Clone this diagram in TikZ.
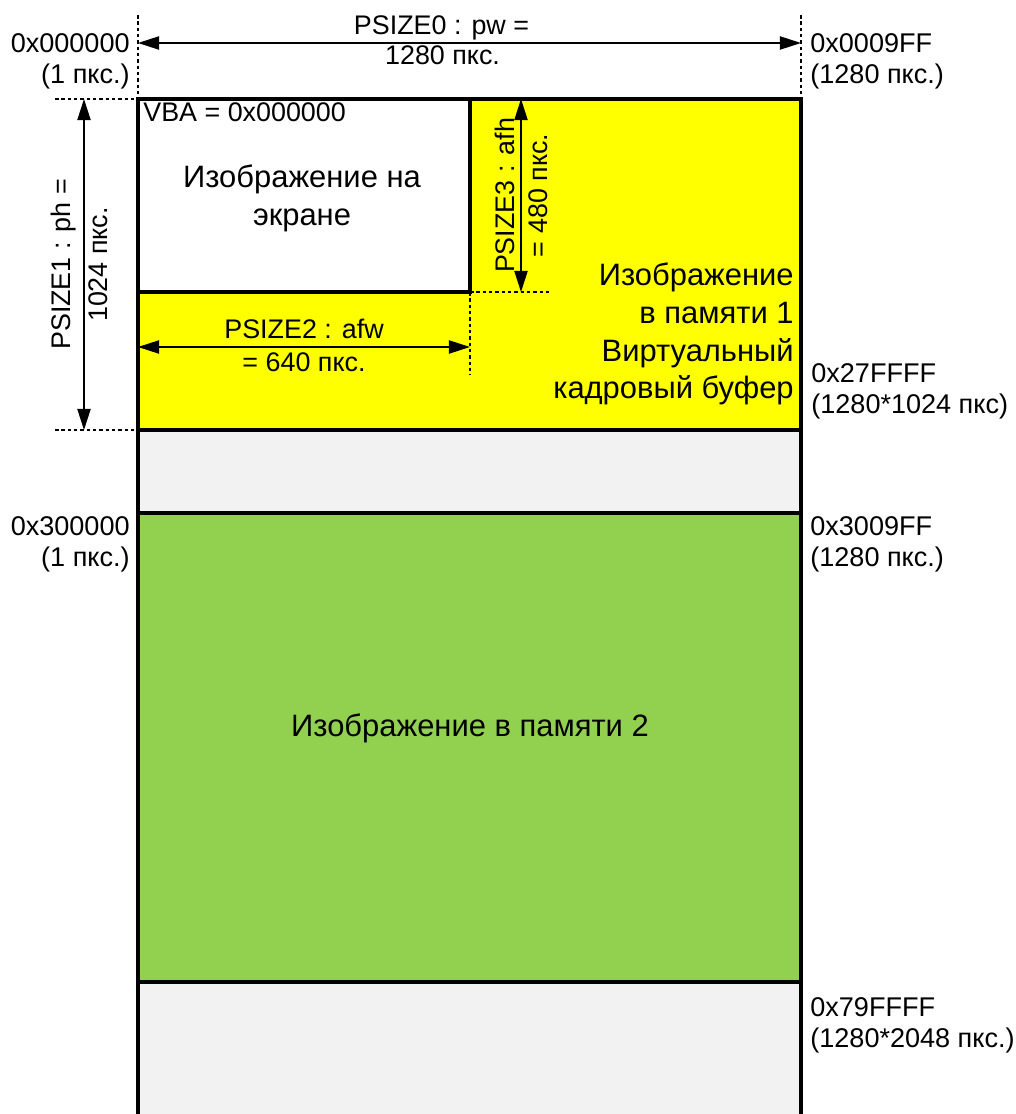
\documentclass[tikz,border=0pt]{standalone}
\usepackage{fontspec}
\setmainfont{Liberation Sans}
\usetikzlibrary{arrows.meta}
\usetikzlibrary{positioning}

\definecolor{bufyellow}{HTML}{FFFF00}
\definecolor{bufgreen}{HTML}{92D050}
\definecolor{memgray}{HTML}{F2F2F2}

\tikzset{
	memline/.style={line width=2pt},
	guide/.style={line width=1.1pt, dash pattern=on 2pt off 1.6pt},
	dim/.style={line width=0.9pt, {Triangle[length=12pt,width=7.5pt]}-{Triangle[length=12pt,width=7.5pt]}},
	addr/.style={font=\fontsize{15.4}{17.5}\selectfont, inner sep=0pt},
	lbl/.style={font=\fontsize{15.3}{21}\selectfont, inner sep=0pt},
	biglbl/.style={font=\fontsize{17.6}{21.5}\selectfont, inner sep=0pt}
}

\begin{document}
\begin{tikzpicture}[x=0.02cm, y=-0.02cm]
		\useasboundingbox (0,0) rectangle (1016,1114);
		%% Invisibly Defining the Corners of the Memory Map
		\path
			(138,99)   coordinate (m_tl)
			(801,99)   coordinate (m_tr)
			(470,99)   coordinate (s_tr)
			(138,292)  coordinate (s_bl)
			(470,292)  coordinate (s_br)
			(138,430)  coordinate (b1_bl)
			(801,430)  coordinate (b1_br)
			(138,513)  coordinate (b2_tl)
			(801,513)  coordinate (b2_tr)
			(138,982)  coordinate (b2_bl)
			(801,982)  coordinate (b2_br)
			(138,1114) coordinate (m_bl)
			(801,1114) coordinate (m_br);
		%% Guide end points
		\path
			(138,15)  coordinate (g_l)
			(801,15)  coordinate (g_r)
			(55,99)   coordinate (g_top)
			(55,430)  coordinate (g_bot)
			(470,375) coordinate (g_afw)
			(550,292) coordinate (g_afh);
		%% Dimension end points
		\path
			(138,43)  coordinate (pw_l)
			(801,43)  coordinate (pw_r)
			(84,430)  coordinate (ph_b)
			(84,99)   coordinate (ph_t)
			(138,347) coordinate (afw_l)
			(470,347) coordinate (afw_r)
			(521,292) coordinate (afh_b)
			(521,99)  coordinate (afh_t);
		%% Filling the regions
		\fill[bufyellow] (m_tl) rectangle (b1_br);
		\fill[white]     (m_tl) rectangle (s_br);
		\fill[memgray]   (b1_bl) rectangle (b2_tr);
		\fill[bufgreen]  (b2_tl) rectangle (b2_br);
		\fill[memgray]   (b2_bl) rectangle (m_br);
		%% Borders
		\draw[memline] (m_bl) -- (m_tl) -- (m_tr) -- (m_br);
		\draw[memline] (b1_bl) -- (b1_br);
		\draw[memline] (b2_tl) -- (b2_tr);
		\draw[memline] (b2_bl) -- (b2_br);
		\draw[memline] (s_tr) -- (s_br) -- (s_bl);
		%% Dashed guides
		\draw[guide] (g_l) -- (m_tl);
		\draw[guide] (g_r) -- (m_tr);
		\draw[guide] (g_top) -- (m_tl);
		\draw[guide] (g_bot) -- (b1_bl);
		\draw[guide] (s_br) -- (g_afw);
		\draw[guide] (s_br) -- (g_afh);
		%% Dimensions
		\draw[dim] (pw_l) -- node[lbl, above=1pt, xshift=-0.56cm] (pw_top) {PSIZE0 : pw =}
			node[lbl, below=1pt, xshift=-0.54cm] (pw_bot) {1280 пкс.} (pw_r);
		\draw[dim] (ph_b) -- node[lbl, sloped, above=4pt] (ph_top) {PSIZE1 : ph =}
			node[lbl, sloped, below=2.3pt] (ph_bot) {1024 пкс.} (ph_t);
		\draw[dim] (afw_l) -- node[lbl, above=4pt] (afw_top) {PSIZE2 : afw}
			node[lbl, below=2.8pt] (afw_bot) {= 640 пкс.} (afw_r);
		\draw[dim] (afh_b) -- node[lbl, sloped, above=3pt] (afh_top) {PSIZE3 : afh}
			node[lbl, sloped, below=4pt] (afh_bot) {= 480 пкс.} (afh_t);
		%% Addresses
		\node[addr, align=right, anchor=east] (a_start)  at (130,61)   {0x000000\\(1 пкс.)};
		\node[addr, align=left, anchor=west]  (a_end)    at (810,61)   {0x0009FF\\(1280 пкс.)};
		\node[addr, align=left, anchor=west]  (a_buf1)   at (811,391)  {0x27FFFF\\(1280*1024 пкс)};
		\node[addr, align=right, anchor=east] (a_b2st)   at (130,544)  {0x300000\\(1 пкс.)};
		\node[addr, align=left, anchor=west]  (a_b2row)  at (810,544)  {0x3009FF\\(1280 пкс.)};
		\node[addr, align=left, anchor=west]  (a_b2end)  at (810,1025) {0x79FFFF\\(1280*2048 пкс.)};
		%% Region labels
		\node[lbl, anchor=north west] (vba) at (143,102) {VBA = 0x000000};
		\node[biglbl, align=center] (scr_txt) at (302,198) {Изображение на\\экране};
		\node[biglbl, align=right, anchor=east] (buf1_txt) at (794,334)
			{Изображение\\в памяти 1\\Виртуальный\\кадровый буфер};
		\node[biglbl] (buf2_txt) at (470,728) {Изображение в памяти 2};
\end{tikzpicture}
\end{document}
